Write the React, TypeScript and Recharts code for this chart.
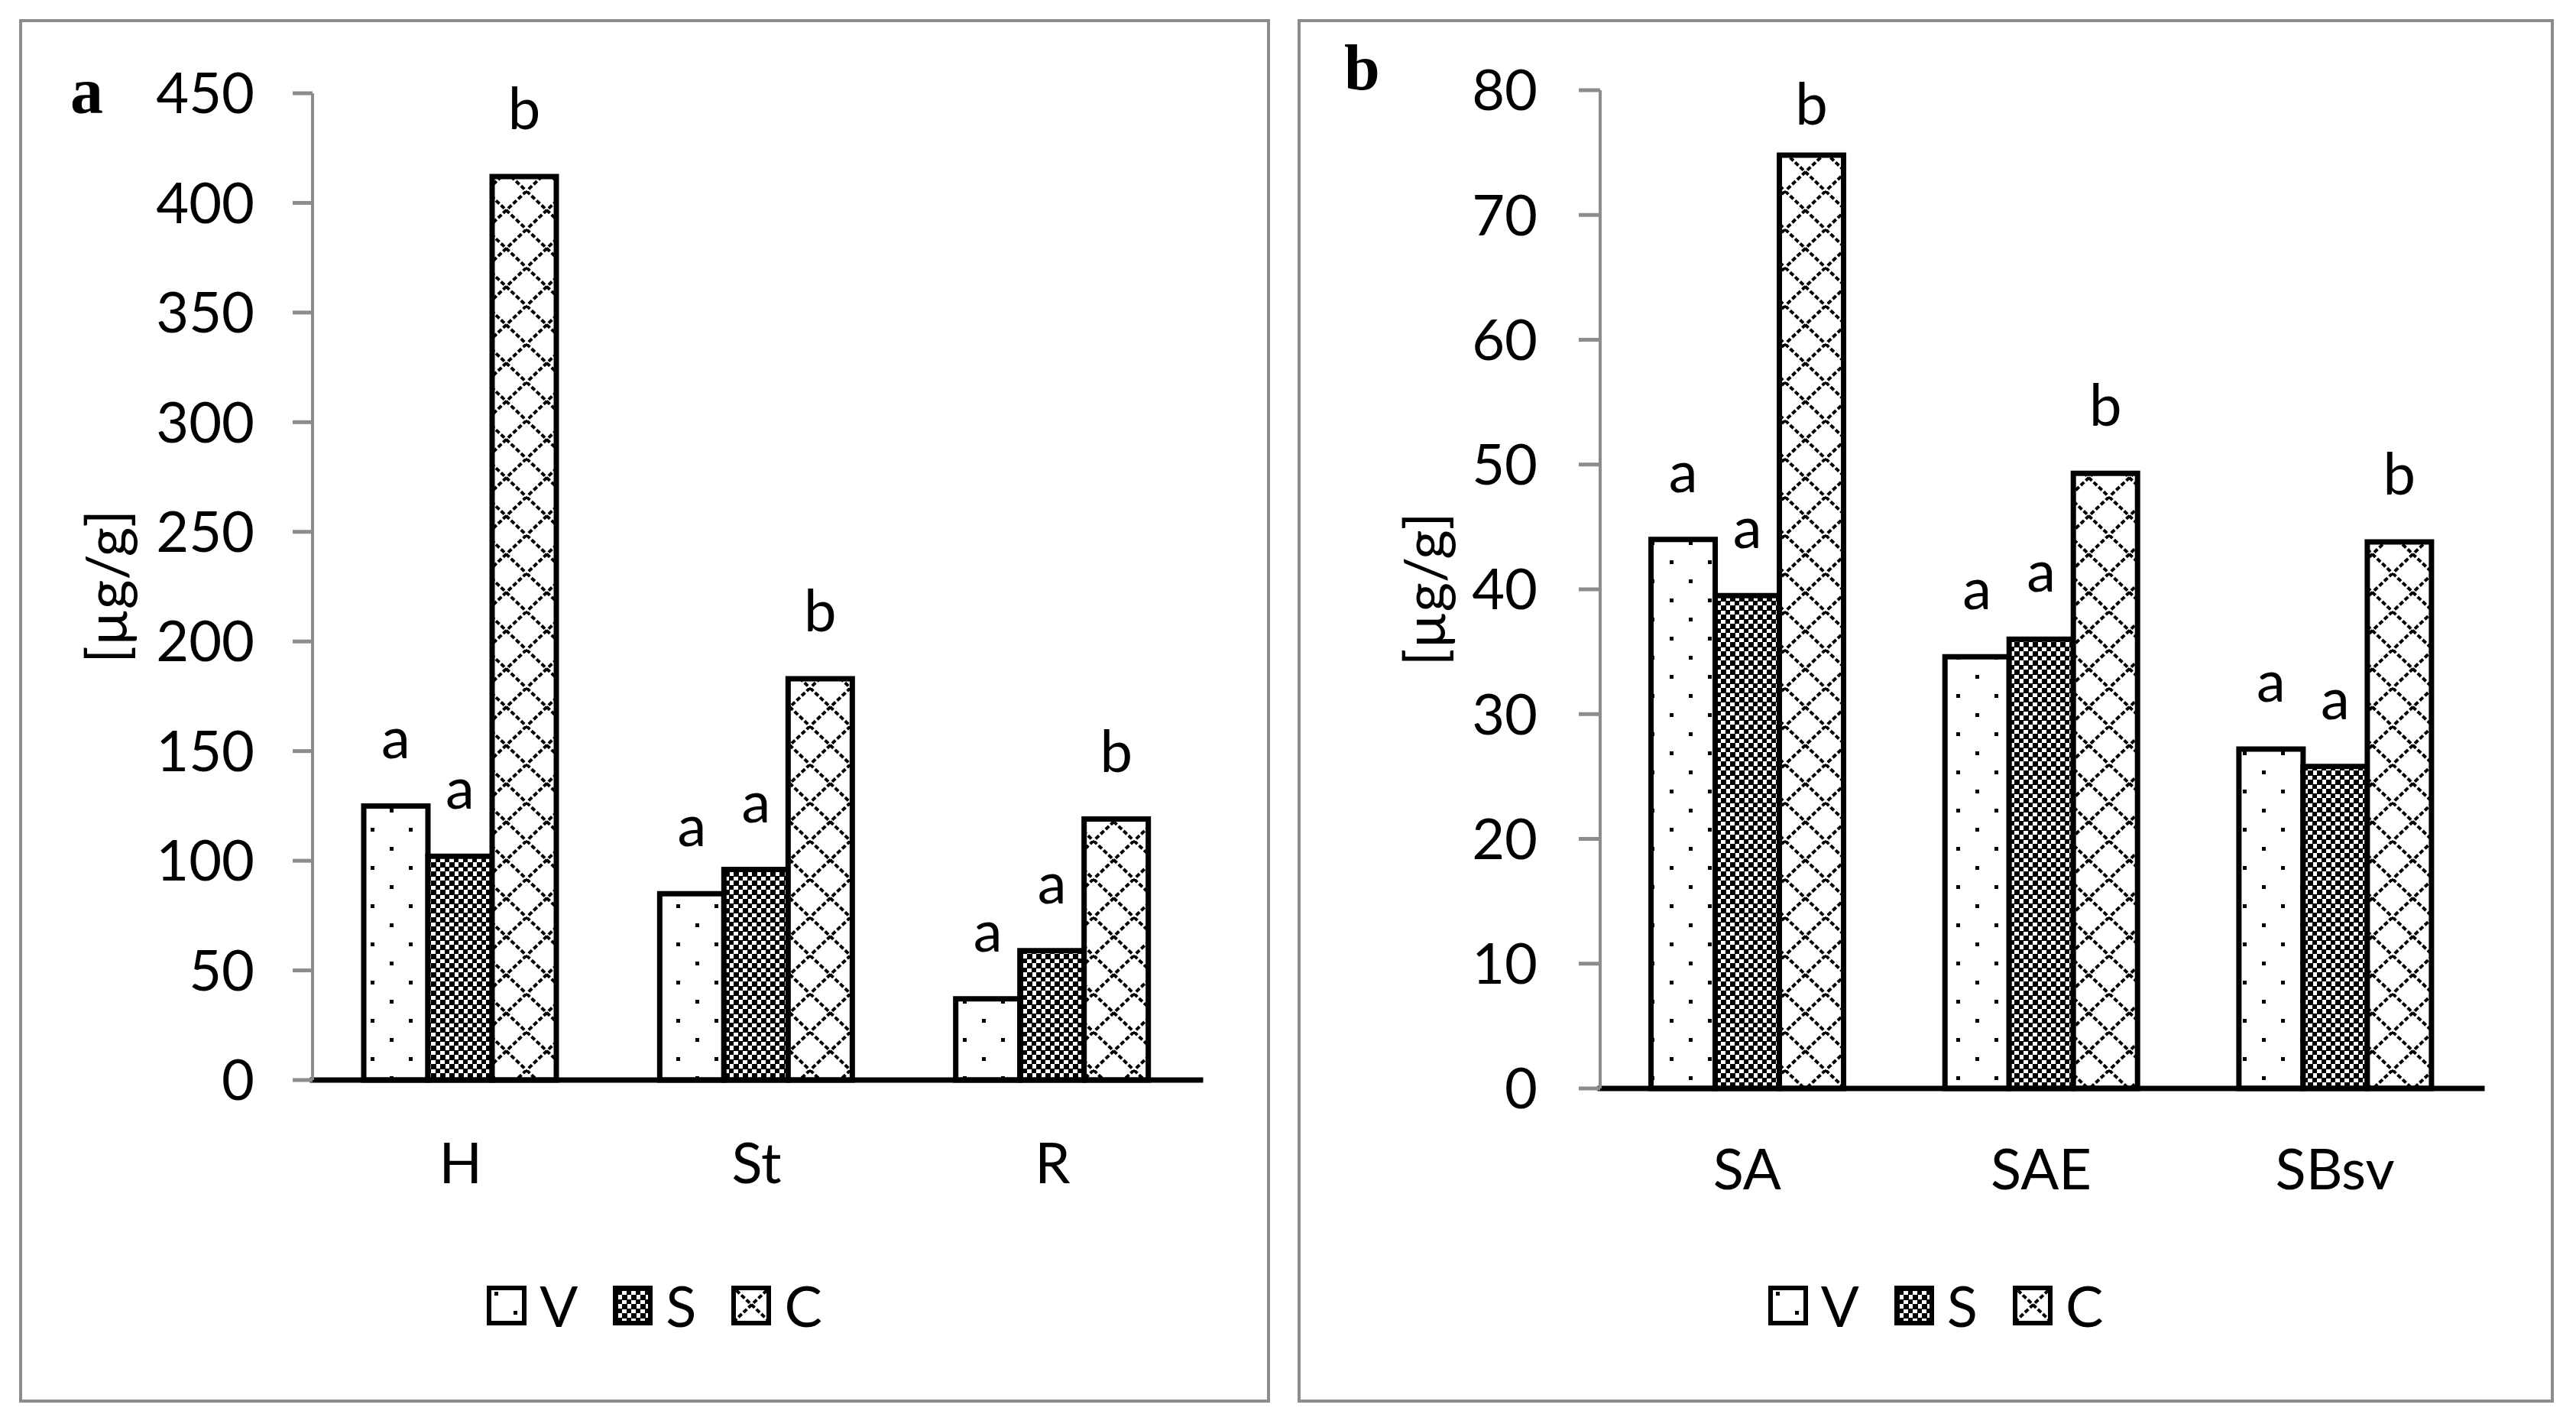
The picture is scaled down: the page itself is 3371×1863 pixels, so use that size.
import React from 'react';
import { BarChart, Bar, XAxis, YAxis, LabelList } from 'recharts';

const FONT = 'Lato, "Open Sans", sans-serif';
const GREY = '#8c8c8c';

// panel a: organs
const organsA = ['H', 'St', 'R'];
const vA = [125, 85, 37];
const sA = [102, 96, 59];
const cA = [412, 183, 119];
const letVA = ['a', 'a', 'a'];
const letSA = ['a', 'a', 'a'];
const letCA = ['b', 'b', 'b'];
const ticksA = [0, 50, 100, 150, 200, 250, 300, 350, 400, 450];

// panel b: fractions
const organsB = ['SA', 'SAE', 'SBsv'];
const vB = [44, 34.6, 27.2];
const sB = [39.5, 36, 25.8];
const cB = [74.8, 49.3, 43.8];
const letVB = ['a', 'a', 'a'];
const letSB = ['a', 'a', 'a'];
const letCB = ['b', 'b', 'b'];
const ticksB = [0, 10, 20, 30, 40, 50, 60, 70, 80];

const seriesKeys = ['V', 'S', 'C'];
const seriesFills = ['url(#pat-dots)', 'url(#pat-check)', 'url(#pat-diamond)'];

const unitLabel = '[µg/g]';

function rows(cats: string[], v: number[], s: number[], c: number[], lv: string[], ls: string[], lc: string[]) {
  return cats.map((cat, i) => ({ cat, V: v[i], S: s[i], C: c[i], lV: lv[i], lS: ls[i], lC: lc[i] }));
}

const dataA = rows(organsA, vA, sA, cA, letVA, letSA, letCA);
const dataB = rows(organsB, vB, sB, cB, letVB, letSB, letCB);

function Patterns() {
  return (
    <svg width={0} height={0} style={{ position: 'absolute' }}>
      <defs>
        <pattern id="pat-dots" patternUnits="userSpaceOnUse" width={50} height={50}>
          <rect width={50} height={50} fill="#fff" />
          <rect x={10} y={8} width={5} height={5} fill="#000" />
          <rect x={35} y={33} width={5} height={5} fill="#000" />
        </pattern>
        <pattern id="pat-check" patternUnits="userSpaceOnUse" width={12} height={12}>
          <rect width={12} height={12} fill="#fff" />
          <rect x={0} y={0} width={7} height={7} fill="#000" />
          <rect x={6} y={6} width={7} height={7} fill="#000" />
        </pattern>
        <pattern id="pat-diamond" patternUnits="userSpaceOnUse" width={53} height={50}>
          <rect width={53} height={50} fill="#fff" />
          <line x1={0} y1={0} x2={53} y2={50} stroke="#000" strokeWidth={4} strokeDasharray="6 3" />
          <line x1={53} y1={0} x2={0} y2={50} stroke="#000" strokeWidth={4} strokeDasharray="6 3" />
        </pattern>
      </defs>
    </svg>
  );
}

function AxisTitle(props: any) {
  const { viewBox, cx } = props;
  const cy = viewBox.y + viewBox.height / 2;
  return (
    <text
      x={cx}
      y={cy}
      transform={`rotate(-90 ${cx} ${cy})`}
      textAnchor="middle"
      dominantBaseline="central"
      fontFamily={FONT}
      fontSize={74}
      fill="#000"
    >
      {unitLabel}
    </text>
  );
}

function letterContent(minBaseline: number) {
  return (props: any) => {
    const { x, y, width, value } = props;
    const base = Math.max(Number(y) - 62, minBaseline);
    return (
      <text x={Number(x) + Number(width) / 2} y={base} textAnchor="middle" fontFamily={FONT} fontSize={76} fill="#000">
        {value}
      </text>
    );
  };
}

type PanelProps = {
  left: number;
  width: number;
  data: any[];
  ticks: number[];
  max: number;
  plotLeft: number;
  plotTop: number;
  plotRight: number;
  plotBottom: number;
  tickSize: number;
  tickMargin: number;
  catMargin: number;
  titleX: number;
};

const H = 1863;
const XH = 150;

function Panel(p: PanelProps) {
  const black = { stroke: '#000', strokeWidth: 7, strokeLinecap: 'square' as const };
  return (
    <div style={{ position: 'absolute', left: p.left, top: 0 }}>
      <BarChart
        width={p.width}
        height={H}
        data={p.data}
        margin={{ top: p.plotTop, left: 0, right: p.width - p.plotRight, bottom: H - p.plotBottom - XH }}
        barCategoryGap="17.3%"
        barGap={0}
      >
        <XAxis
          dataKey="cat"
          height={XH}
          tickSize={0}
          tickMargin={p.catMargin}
          tickLine={false}
          axisLine={black}
          tick={{ fill: '#000', fontSize: 74, fontFamily: FONT }}
        />
        <XAxis xAxisId="top" dataKey="cat" orientation="top" height={0} tick={false} tickLine={false} axisLine={black} />
        <YAxis
          width={p.plotLeft}
          domain={[0, p.max]}
          ticks={p.ticks}
          interval={0}
          tickSize={p.tickSize}
          tickMargin={p.tickMargin}
          tickLine={{ stroke: GREY, strokeWidth: 5 }}
          axisLine={{ stroke: GREY, strokeWidth: 4 }}
          tick={{ fill: '#000', fontSize: 74, fontFamily: FONT }}
          label={<AxisTitle cx={p.titleX} />}
        />
        <YAxis yAxisId="right" orientation="right" width={0} domain={[0, p.max]} tick={false} tickLine={false} axisLine={black} />
        {seriesKeys.map((k, i) => (
          <Bar key={k} dataKey={k} fill={seriesFills[i]} stroke="#000" strokeWidth={7} isAnimationActive={false}>
            <LabelList dataKey={'l' + k} content={letterContent(p.plotTop + 45)} />
          </Bar>
        ))}
      </BarChart>
    </div>
  );
}

function Legend({ left, width }: { left: number; width: number }) {
  return (
    <div
      style={{
        position: 'absolute',
        left,
        top: 1682,
        width,
        height: 52,
        display: 'flex',
        justifyContent: 'center',
        alignItems: 'center',
        paddingLeft: 26,
        boxSizing: 'border-box',
        fontFamily: FONT,
        fontSize: 74,
        lineHeight: 1,
        color: '#000',
      }}
    >
      {seriesKeys.map((k, i) => (
        <div key={k} style={{ display: 'flex', alignItems: 'center', marginRight: i < seriesKeys.length - 1 ? 46 : 0 }}>
          <svg width={52} height={52}>
            <rect x={3} y={3} width={46} height={46} fill={seriesFills[i]} stroke="#000" strokeWidth={6} />
          </svg>
          <span style={{ marginLeft: 17 }}>{k}</span>
        </div>
      ))}
    </div>
  );
}

const frame = (left: number, width: number): React.CSSProperties => ({
  position: 'absolute',
  left,
  top: 25,
  width,
  height: 1810,
  border: `4px solid ${GREY}`,
  boxSizing: 'border-box',
});

export default function App() {
  return (
    <div style={{ position: 'absolute', left: 0, top: 0, width: 3371, height: H, background: '#fff', overflow: 'hidden' }}>
      <Patterns />
      <div style={frame(25, 1637)} />
      <div style={frame(1698, 1644)} />
      <Panel
        left={0}
        width={1690}
        data={dataA}
        ticks={ticksA}
        max={450}
        plotLeft={409}
        plotTop={122}
        plotRight={1571}
        plotBottom={1413}
        tickSize={26}
        tickMargin={50}
        catMargin={82}
        titleX={137}
      />
      <Panel
        left={1700}
        width={1671}
        data={dataB}
        ticks={ticksB}
        max={80}
        plotLeft={394}
        plotTop={118}
        plotRight={1548}
        plotBottom={1424}
        tickSize={28}
        tickMargin={54}
        catMargin={79}
        titleX={162}
      />
      <Legend left={25} width={1637} />
      <Legend left={1698} width={1644} />
      <svg width={3371} height={H} style={{ position: 'absolute', left: 0, top: 0, pointerEvents: 'none' }}>
        <text x={92} y={148} fontFamily='"Liberation Serif", "Times New Roman", serif' fontWeight="bold" fontSize={86} fill="#000">
          a
        </text>
        <text x={1759} y={117} fontFamily='"Liberation Serif", "Times New Roman", serif' fontWeight="bold" fontSize={84} fill="#000">
          b
        </text>
      </svg>
    </div>
  );
}
